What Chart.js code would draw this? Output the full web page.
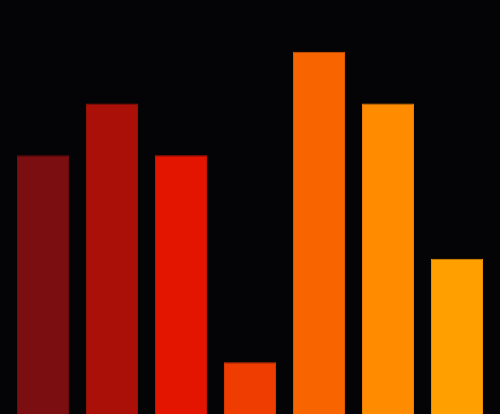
<!DOCTYPE html>
<html>
<head>
<meta charset="utf-8">
<script src="https://cdn.jsdelivr.net/npm/chart.js@4"></script>
<style>
html,body{margin:0;padding:0;background:#040406;}
#wrap{width:500px;height:414px;}
</style>
</head>
<body>
<div id="wrap"><canvas id="c" width="500" height="414"></canvas></div>
<script>
const categories = ["A","B","C","D","E","F","G"];
const values = [5, 6, 5, 1, 7, 6, 3];
const barColors = ["#7a0e10","#aa1008","#e31400","#ef3c00","#f86500","#ff8c00","#ffa000"];
const borderColors = ["#6a0c0e","#961006","#c81200","#d63600","#dd5a00","#e87e00","#e89000"];

new Chart(document.getElementById('c'), {
  type: 'bar',
  data: {
    labels: categories,
    datasets: [{
      data: values,
      backgroundColor: barColors,
      borderColor: borderColors,
      borderWidth: 1,
      barPercentage: 0.754,
      categoryPercentage: 1
    }]
  },
  options: {
    responsive: false,
    animation: false,
    layout: { padding: { left: 8.5, right: 8.5, top: 0, bottom: 0 } },
    plugins: { legend: { display: false }, tooltip: { enabled: false } },
    scales: {
      x: { display: false },
      y: { display: false, min: 0, max: 8 }
    }
  }
});
</script>
</body>
</html>
